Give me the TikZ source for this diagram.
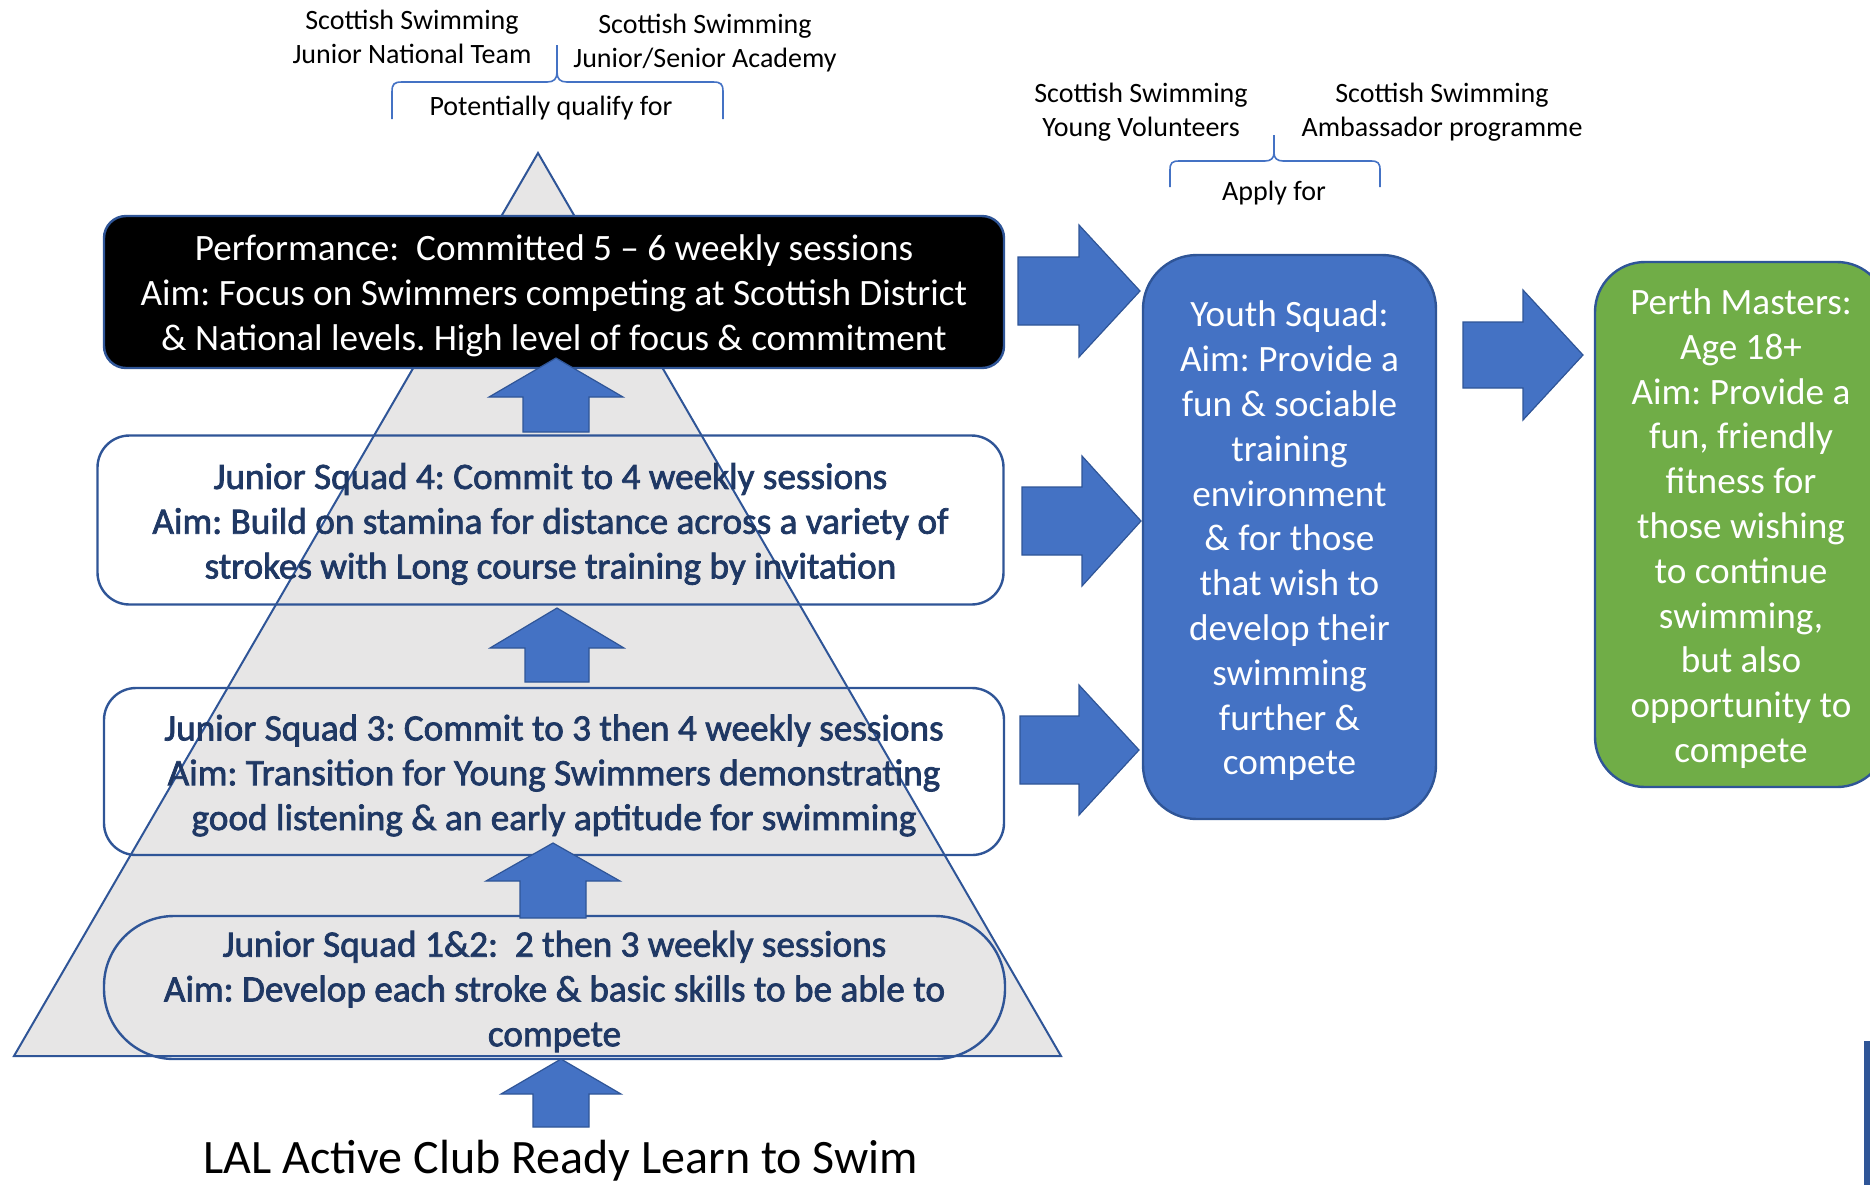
\documentclass[tikz,border=0pt]{standalone}
\usepackage{fontspec}
\setmainfont{Carlito}
\newfontfamily\jsfont{Carlito}[FakeBold=2]
\definecolor{bluefill}{HTML}{4472C4}
\definecolor{blueline}{HTML}{2F5597}
\definecolor{navy}{HTML}{1F3864}
\definecolor{greenfill}{HTML}{70AD47}
\definecolor{trigrey}{HTML}{E7E6E6}
\newcommand{\upblock}[6]{%
  \filldraw[blockarrow] (#1,#2) -- ({#1+#4},#3) -- ({#1+#5},#3) -- ({#1+#5},#6) -- ({#1-#5},#6) -- ({#1-#5},#3) -- ({#1-#4},#3) -- cycle;}
\newcommand{\rightblock}[6]{%
  \filldraw[blockarrow] (#1,#2) -- (#3,{#2-#4}) -- (#3,{#2-#5}) -- (#6,{#2-#5}) -- (#6,{#2+#5}) -- (#3,{#2+#5}) -- (#3,{#2+#4}) -- cycle;}
\begin{document}
\frenchspacing
\begin{tikzpicture}[x=0.5pt,y=-0.5pt,
  mainfont/.style={font=\frenchspacing\fontsize{18.6}{22.4}\selectfont},
  basebox/.style={draw=blueline, line width=1.2pt, inner sep=0pt},
  jsbox/.style={basebox, rounded corners=16pt},
  jstext/.style={align=center, inner sep=0pt, yshift=-2pt, text=navy, font=\frenchspacing\jsfont\fontsize{18.6}{22.4}\selectfont},
  whitetext/.style={align=center, inner sep=0pt, yshift=-2pt, text=white, mainfont},
  blockarrow/.style={fill=bluefill, draw=blueline, line width=0.6pt, line join=miter},
  smalllabel/.style={align=center, inner sep=0pt, font=\frenchspacing\fontsize{14}{16.7}\selectfont},
  bracestyle/.style={draw=bluefill, line width=0.8pt}]
\useasboundingbox (0,0) rectangle (1870,1185);

% pyramid
\filldraw[fill=trigrey, draw=blueline, line width=1pt, line join=miter]
  (538,153) -- (1061,1056) -- (14,1056) -- cycle;

% pyramid levels
\node[basebox, rounded corners=11pt, fill=black, minimum width=450pt, minimum height=76pt] (perf) at (554,292) {};
\node[whitetext] (perftext) at (perf.center)
  {Performance:\ \ Committed 5 -- 6 weekly sessions\\
   Aim: Focus on Swimmers competing at Scottish District\\
   \& National levels. High level of focus \& commitment};
\node[jsbox, minimum width=453pt, minimum height=84.5pt] (js4) at (550.5,520) {};
\node[jstext] (js4text) at (js4.center)
  {Junior Squad 4: Commit to 4 weekly sessions\\
   Aim: Build on stamina for distance across a variety of\\
   strokes with Long course training by invitation};
\node[jsbox, minimum width=450pt, minimum height=83.5pt] (js3) at (554,771.5) {};
\node[jstext] (js3text) at (js3.center)
  {Junior Squad 3: Commit to 3 then 4 weekly sessions\\
   Aim: Transition for Young Swimmers demonstrating\\
   good listening \& an early aptitude for swimming};
\node[jsbox, rounded corners=35pt, minimum width=450.5pt, minimum height=71.5pt] (js12) at (554.5,987.5) {};
\node[jstext] (js12text) at (js12.center)
  {Junior Squad 1\&2:\ \ 2 then 3 weekly sessions\\
   Aim: Develop each stroke \& basic skills to be able to\\
   compete};

% side boxes
\node[basebox, fill=bluefill, rounded corners=27pt, minimum width=146.5pt, minimum height=282pt] (youth) at (1289.5,537) {};
\node[whitetext] (youthtext) at (youth.center)
  {Youth Squad:\\Aim: Provide a\\fun \& sociable\\training\\environment\\\& for those\\that wish to\\develop their\\swimming\\further \&\\compete};
\node[basebox, fill=greenfill, rounded corners=25pt, minimum width=146pt, minimum height=262.5pt] (masters) at (1741,524.5) {};
\node[whitetext] (masterstext) at (masters.center)
  {Perth Masters:\\Age 18+\\Aim: Provide a\\fun, friendly\\fitness for\\those wishing\\to continue\\swimming,\\but also\\opportunity to\\compete};

% up block arrows
\upblock{556}{358}{397}{67}{33}{432}
\upblock{557}{608}{648}{67}{32}{682}
\upblock{553}{843}{881}{67}{33}{918}
\upblock{561}{1059}{1094}{60}{28}{1127}

% right block arrows
\rightblock{1140}{291}{1079}{66}{34}{1018}
\rightblock{1141}{521}{1082}{65}{34}{1022}
\rightblock{1139}{750}{1079}{65}{34}{1020}
\rightblock{1583}{355}{1523}{65}{33}{1463}

% bottom label
\node[inner sep=0pt, font=\fontsize{24}{28}\selectfont] (lal) at (561,1161) {LAL Active Club Ready Learn to Swim};

% top labels and braces
\node[smalllabel] (jnt) at (412,37) {Scottish Swimming\\Junior National Team};
\node[smalllabel] (jsa) at (705,43) {Scottish Swimming\\Junior/Senior Academy};
\node[smalllabel] (pq) at (551,108.5) {Potentially qualify for};
\coordinate (b1peak) at (557,45);
\draw[bracestyle] (392,119) -- (392,92) .. controls (392,84) and (394,82) .. (402,82) -- (547,82)
  .. controls (554,82) and (557,79) .. (557,72) -- (b1peak);
\draw[bracestyle] (723,119) -- (723,92) .. controls (723,84) and (721,82) .. (713,82) -- (567,82)
  .. controls (560,82) and (557,79) .. (557,72);

\node[smalllabel] (yv) at (1141,112) {Scottish Swimming\\Young Volunteers};
\node[smalllabel] (amb) at (1442,112) {Scottish Swimming\\Ambassador programme};
\node[smalllabel] (af) at (1274,193.5) {Apply for};
\coordinate (b2peak) at (1274,135);
\draw[bracestyle] (1170,187) -- (1170,170) .. controls (1170,163) and (1172,161) .. (1179,161) -- (1265,161)
  .. controls (1271,161) and (1274,158) .. (1274,153) -- (b2peak);
\draw[bracestyle] (1380,187) -- (1380,170) .. controls (1380,163) and (1378,161) .. (1371,161) -- (1283,161)
  .. controls (1277,161) and (1274,158) .. (1274,153);

% cut-off element at bottom right
\fill[blueline] (1864,1041) rectangle (1870,1185);
\end{tikzpicture}
\end{document}
